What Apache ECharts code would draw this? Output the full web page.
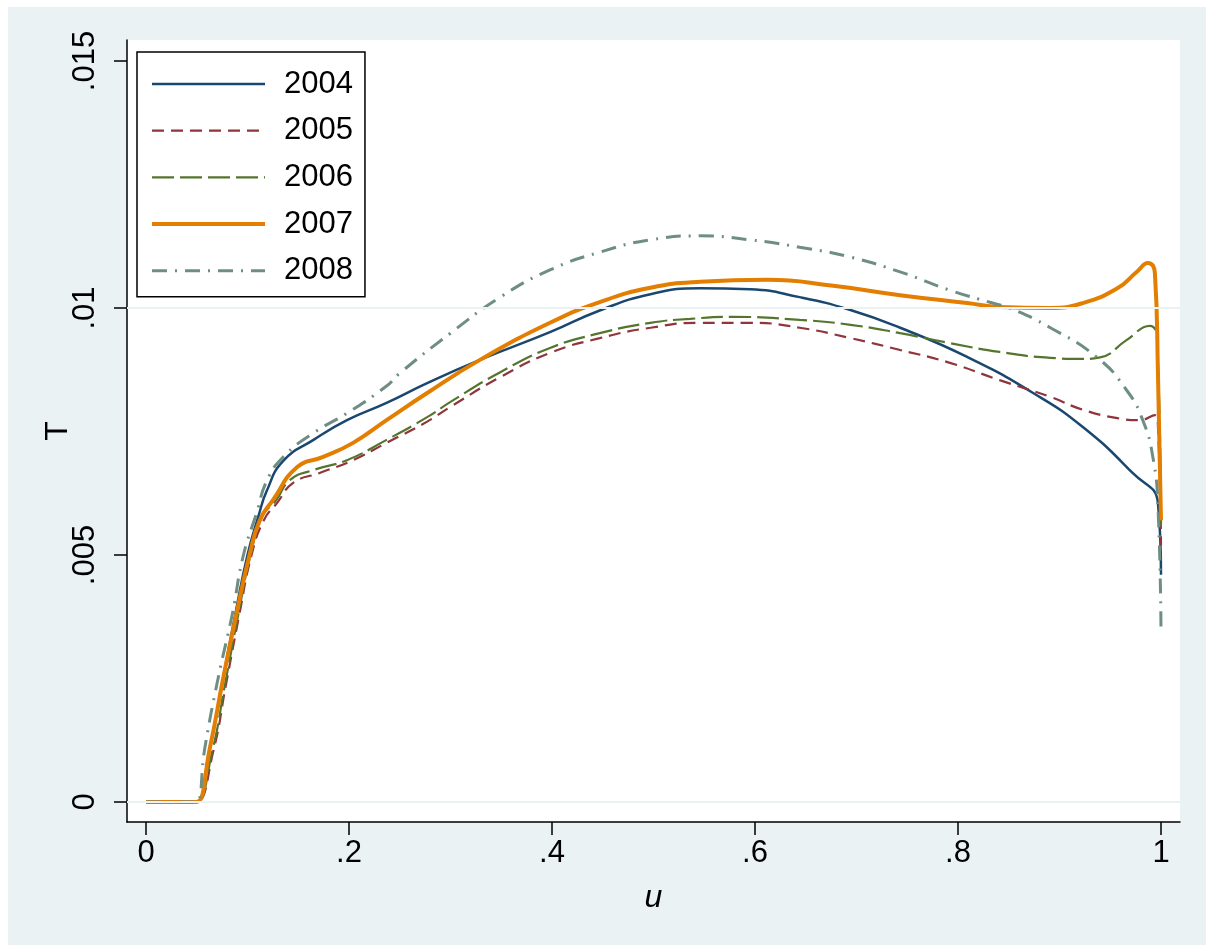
<!DOCTYPE html>
<html>
<head>
<meta charset="utf-8">
<script src="https://cdn.jsdelivr.net/npm/echarts@6/dist/echarts.min.js"></script>
<style>
  html, body { margin: 0; background: #fff; }
  #chart { position: absolute; left: 8px; top: 7px; width: 1198px; height: 938px; }
</style>
</head>
<body>
<div id="chart"></div>
<script>
// colours (Stata s2color look)
const BG = '#eaf2f3';
const FONT = '"Liberation Sans", Arial, sans-serif';

// curves: [u, T]
const s2004 = [
  [0, 0], [0.045, 0], [0.05, 0], [0.062, 0.0010], [0.075, 0.0024], [0.088, 0.0038], [0.100, 0.0050],
  [0.111, 0.0058], [0.119, 0.0063], [0.135, 0.0069], [0.165, 0.00733], [0.198, 0.00773],
  [0.237, 0.00808], [0.277, 0.00848], [0.329, 0.00895], [0.398, 0.00951], [0.447, 0.00995],
  [0.497, 0.01028], [0.546, 0.0104], [0.595, 0.01038], [0.644, 0.01022], [0.694, 0.00996],
  [0.743, 0.0096], [0.809, 0.00901], [0.874, 0.00828], [0.923, 0.00759], [0.972, 0.00666],
  [0.997, 0.00605], [1.0, 0.0046]
];
const s2005 = [
  [0, 0], [0.045, 0], [0.05, 0], [0.066, 0.0010], [0.079, 0.0024], [0.092, 0.0038], [0.104, 0.0050],
  [0.116, 0.0057], [0.129, 0.00605], [0.145, 0.00646], [0.171, 0.00666], [0.204, 0.00692],
  [0.237, 0.00727], [0.277, 0.0077], [0.3, 0.0080], [0.349, 0.0086], [0.398, 0.00909],
  [0.447, 0.00939], [0.497, 0.0096], [0.546, 0.0097], [0.595, 0.0097], [0.644, 0.0096],
  [0.694, 0.00939], [0.743, 0.00915], [0.792, 0.00889], [0.841, 0.00854], [0.891, 0.0082],
  [0.923, 0.00794], [0.957, 0.00777], [0.979, 0.00773], [0.994, 0.00783], [0.997, 0.0076],
  [1.0, 0.0052]
];
const s2006 = [
  [0, 0], [0.045, 0], [0.05, 0], [0.065, 0.0010], [0.078, 0.0024], [0.091, 0.0038], [0.103, 0.0050],
  [0.115, 0.0058], [0.128, 0.0061], [0.142, 0.00652], [0.165, 0.00672], [0.198, 0.00692],
  [0.237, 0.00733], [0.277, 0.00779], [0.3, 0.0081], [0.349, 0.0087], [0.398, 0.00919],
  [0.447, 0.00949], [0.497, 0.0097], [0.536, 0.00978], [0.578, 0.00982], [0.644, 0.00976],
  [0.694, 0.00966], [0.743, 0.00949], [0.792, 0.00929], [0.841, 0.00911], [0.891, 0.00899],
  [0.923, 0.00897], [0.94, 0.0090], [0.966, 0.00935], [0.989, 0.00964], [0.996, 0.0094],
  [1.0, 0.0056]
];
const s2007 = [
  [0, 0], [0.045, 0], [0.05, 0], [0.063, 0.0011], [0.076, 0.0025], [0.089, 0.0038], [0.102, 0.0050],
  [0.112, 0.0057], [0.125, 0.00611], [0.149, 0.00678], [0.174, 0.00698], [0.204, 0.00727],
  [0.237, 0.00773], [0.277, 0.00828], [0.329, 0.00895], [0.398, 0.0097], [0.447, 0.01012],
  [0.497, 0.01041], [0.546, 0.01053], [0.612, 0.01057], [0.677, 0.01045], [0.743, 0.01026],
  [0.809, 0.0101], [0.841, 0.01002], [0.891, 0.0100], [0.923, 0.0101], [0.957, 0.0104],
  [0.976, 0.01073], [0.987, 0.01091], [0.994, 0.0107], [0.997, 0.00868], [1.0, 0.0057]
];
const s2008 = [
  [0, 0], [0.045, 0], [0.05, 0], [0.058, 0.0011], [0.071, 0.0025], [0.085, 0.0038], [0.096, 0.0050],
  [0.109, 0.00585], [0.119, 0.0065], [0.135, 0.00698], [0.165, 0.00747], [0.198, 0.00787],
  [0.237, 0.00842], [0.25, 0.00868], [0.3, 0.00949], [0.349, 0.01022], [0.398, 0.01077],
  [0.447, 0.01113], [0.497, 0.01138], [0.546, 0.01146], [0.595, 0.01138], [0.644, 0.01123],
  [0.694, 0.01103], [0.743, 0.01073], [0.792, 0.01036], [0.834, 0.0101], [0.851, 0.0100],
  [0.891, 0.0096], [0.937, 0.0090], [0.966, 0.00834], [0.982, 0.00773], [0.992, 0.00698],
  [0.997, 0.00597], [1.0, 0.0034]
];

const years = ['2004', '2005', '2006', '2007', '2008'];
const xTicks = [0, 0.2, 0.4, 0.6, 0.8, 1];
const yTicks = [0, 0.005, 0.01, 0.015];
const yGridLines = [0, 0.005, 0.01];

// drop the leading zero like Stata does: 0.2 -> .2
const stataNum = (v) => v === 0 ? '0' : String(v).replace(/^0\./, '.');

const lineSeries = (name, data, color, width, type) => ({
  name,
  type: 'line',
  data,
  symbol: 'none',
  smooth: 0.5,
  z: 3,
  itemStyle: { color },
  lineStyle: { color, width, type, cap: 'butt' }
});

const chart = echarts.init(document.getElementById('chart'));

const option = {
  backgroundColor: BG,
  animation: false,
  grid: {
    left: 119,
    right: 26,
    top: 33,
    bottom: 123,
    show: true,
    backgroundColor: '#fff',
    borderWidth: 0
  },
  legend: {
    data: years,
    orient: 'vertical',
    left: 129,
    top: 45,
    padding: [16, 12, 10, 13],
    itemWidth: 113,
    itemHeight: 32,
    itemGap: 14.7,
    backgroundColor: '#fff',
    borderColor: '#000',
    borderWidth: 1.5,
    selectedMode: false,
    itemStyle: { opacity: 0 },
    lineStyle: { width: 'inherit' },
    textStyle: {
      fontFamily: FONT,
      fontSize: 31,
      color: '#000',
      lineHeight: 32,
      padding: [0, 0, 0, 14]
    }
  },
  xAxis: {
    type: 'value',
    min: -0.01872,
    max: 1.01872,
    name: 'u',
    nameLocation: 'middle',
    nameGap: 60,
    nameTextStyle: { fontFamily: FONT, fontSize: 32, fontStyle: 'italic', color: '#000' },
    axisLine: { onZero: false, lineStyle: { color: '#000', width: 1.5 } },
    axisTick: { customValues: xTicks, length: 13, lineStyle: { color: '#000', width: 1.5 } },
    axisLabel: {
      customValues: xTicks,
      margin: 16,
      fontFamily: FONT,
      fontSize: 31,
      color: '#000',
      formatter: stataNum
    },
    splitLine: { show: false }
  },
  yAxis: {
    type: 'value',
    min: -0.000405,
    max: 0.015425,
    name: 'T',
    nameLocation: 'middle',
    nameGap: 53,
    nameMoveOverlap: false,
    nameTextStyle: { fontFamily: FONT, fontSize: 32, color: '#000' },
    axisLine: { onZero: false, lineStyle: { color: '#000', width: 1.5 } },
    axisTick: { customValues: yTicks, length: 13, lineStyle: { color: '#000', width: 1.5 } },
    axisLabel: {
      customValues: yTicks,
      rotate: 90,
      margin: 26,
      fontFamily: FONT,
      fontSize: 31,
      color: '#000',
      formatter: stataNum
    },
    splitLine: { show: false }
  },
  series: [
    // horizontal grid lines
    {
      name: 'grid',
      type: 'line',
      data: [],
      z: 1,
      markLine: {
        silent: true,
        symbol: 'none',
        label: { show: false },
        lineStyle: { color: BG, width: 2, type: 'solid' },
        data: yGridLines.map(v => ({ yAxis: v }))
      }
    },
    lineSeries('2004', s2004, '#1a476f', 2.5, 'solid'),
    lineSeries('2005', s2005, '#90353b', 2.2, [12, 7]),
    lineSeries('2006', s2006, '#55752f', 2.2, [22, 6]),
    lineSeries('2007', s2007, '#e37e00', 4, 'solid'),
    lineSeries('2008', s2008, '#6e8e84', 3, [15, 8, 2, 8])
  ]
};

chart.setOption(option);
</script>
</body>
</html>
